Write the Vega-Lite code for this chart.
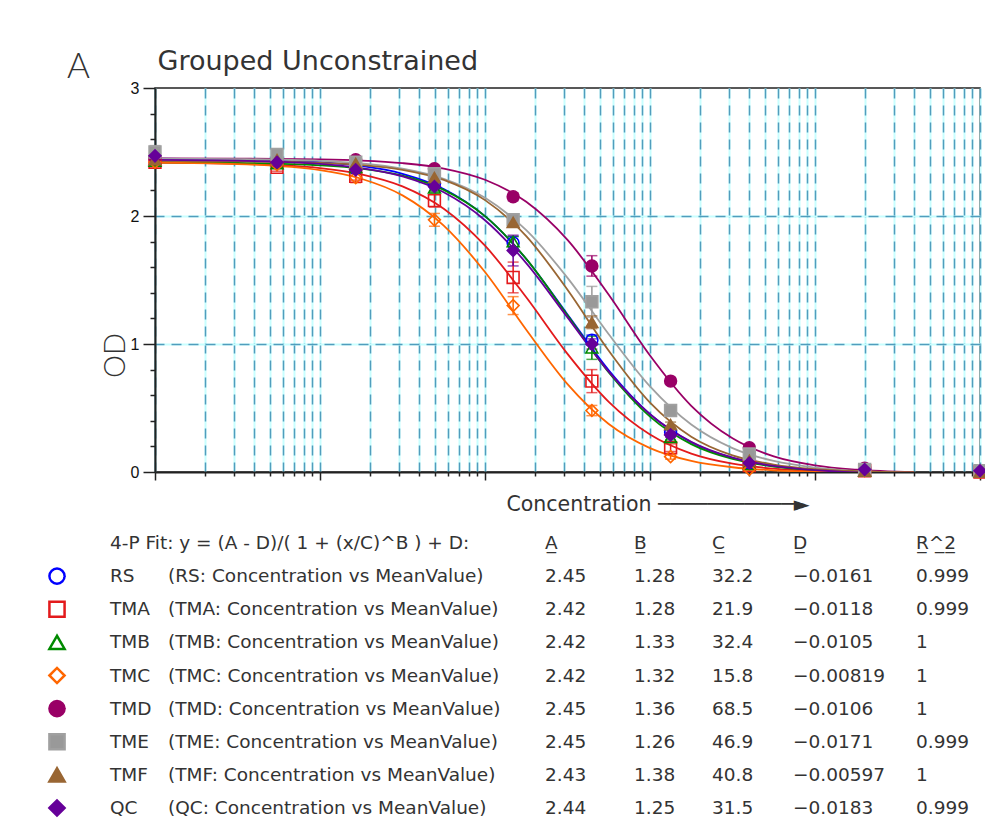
{
  "$schema": "https://vega.github.io/schema/vega-lite/v6.json",
  "width": 825,
  "height": 384,
  "autosize": {"type": "none"},
  "padding": {"left": 155, "top": 88, "right": 5, "bottom": 362},
  "background": "white",
  "config": {
    "view": {"stroke": "#222", "strokeWidth": 1.5},
    "font": "DejaVu Sans",
    "text": {"font": "DejaVu Sans"}
  },
  "datasets": {
    "curves": [
      {"series":"RS","conc":0.1,"od":2.448},{"series":"RS","conc":0.3162,"od":2.443},{"series":"RS","conc":1,"od":2.421},{"series":"RS","conc":1.778,"od":2.391},{"series":"RS","conc":3.162,"od":2.330},{"series":"RS","conc":5.623,"od":2.211},{"series":"RS","conc":10,"od":1.999},{"series":"RS","conc":17.78,"od":1.664},{"series":"RS","conc":31.62,"od":1.231},{"series":"RS","conc":56.23,"od":0.795},{"series":"RS","conc":100,"od":0.452},{"series":"RS","conc":177.8,"od":0.233},{"series":"RS","conc":316.2,"od":0.110},{"series":"RS","conc":562.3,"od":0.046},{"series":"RS","conc":1000,"od":0.014},{"series":"RS","conc":1778,"od":-0.002},{"series":"RS","conc":3981,"od":-0.011},
      {"series":"TMA","conc":0.1,"od":2.418},{"series":"TMA","conc":0.3162,"od":2.409},{"series":"TMA","conc":1,"od":2.374},{"series":"TMA","conc":1.778,"od":2.326},{"series":"TMA","conc":3.162,"od":2.232},{"series":"TMA","conc":5.623,"od":2.057},{"series":"TMA","conc":10,"od":1.768},{"series":"TMA","conc":17.78,"od":1.365},{"series":"TMA","conc":31.62,"od":0.923},{"series":"TMA","conc":56.23,"od":0.548},{"series":"TMA","conc":100,"od":0.293},{"series":"TMA","conc":177.8,"od":0.144},{"series":"TMA","conc":316.2,"od":0.065},{"series":"TMA","conc":562.3,"od":0.026},{"series":"TMA","conc":1000,"od":0.006},{"series":"TMA","conc":1778,"od":-0.003},{"series":"TMA","conc":3981,"od":-0.009},
      {"series":"TMB","conc":0.1,"od":2.419},{"series":"TMB","conc":0.3162,"od":2.415},{"series":"TMB","conc":1,"od":2.396},{"series":"TMB","conc":1.778,"od":2.370},{"series":"TMB","conc":3.162,"od":2.315},{"series":"TMB","conc":5.623,"od":2.204},{"series":"TMB","conc":10,"od":1.999},{"series":"TMB","conc":17.78,"od":1.665},{"series":"TMB","conc":31.62,"od":1.224},{"series":"TMB","conc":56.23,"od":0.778},{"series":"TMB","conc":100,"od":0.433},{"series":"TMB","conc":177.8,"od":0.218},{"series":"TMB","conc":316.2,"od":0.102},{"series":"TMB","conc":562.3,"od":0.043},{"series":"TMB","conc":1000,"od":0.015},{"series":"TMB","conc":1778,"od":0.001},{"series":"TMB","conc":3981,"od":-0.006},
      {"series":"TMC","conc":0.1,"od":2.417},{"series":"TMC","conc":0.3162,"od":2.406},{"series":"TMC","conc":1,"od":2.358},{"series":"TMC","conc":1.778,"od":2.291},{"series":"TMC","conc":3.162,"od":2.161},{"series":"TMC","conc":5.623,"od":1.925},{"series":"TMC","conc":10,"od":1.562},{"series":"TMC","conc":17.78,"od":1.111},{"series":"TMC","conc":31.62,"od":0.686},{"series":"TMC","conc":56.23,"od":0.375},{"series":"TMC","conc":100,"od":0.187},{"series":"TMC","conc":177.8,"od":0.087},{"series":"TMC","conc":316.2,"od":0.037},{"series":"TMC","conc":562.3,"od":0.013},{"series":"TMC","conc":1000,"od":0.002},{"series":"TMC","conc":1778,"od":-0.003},{"series":"TMC","conc":3981,"od":-0.007},
      {"series":"TMD","conc":0.1,"od":2.450},{"series":"TMD","conc":0.3162,"od":2.448},{"series":"TMD","conc":1,"od":2.442},{"series":"TMD","conc":1.778,"od":2.433},{"series":"TMD","conc":3.162,"od":2.413},{"series":"TMD","conc":5.623,"od":2.371},{"series":"TMD","conc":10,"od":2.283},{"series":"TMD","conc":17.78,"od":2.111},{"series":"TMD","conc":31.62,"od":1.813},{"series":"TMD","conc":56.23,"od":1.384},{"series":"TMD","conc":100,"od":0.910},{"series":"TMD","conc":177.8,"od":0.517},{"series":"TMD","conc":316.2,"od":0.263},{"series":"TMD","conc":562.3,"od":0.122},{"series":"TMD","conc":1000,"od":0.052},{"series":"TMD","conc":1778,"od":0.018},{"series":"TMD","conc":3981,"od":-0.001},
      {"series":"TME","conc":0.1,"od":2.449},{"series":"TME","conc":0.3162,"od":2.445},{"series":"TME","conc":1,"od":2.431},{"series":"TME","conc":1.778,"od":2.411},{"series":"TME","conc":3.162,"od":2.370},{"series":"TME","conc":5.623,"od":2.291},{"series":"TME","conc":10,"od":2.142},{"series":"TME","conc":17.78,"od":1.889},{"series":"TME","conc":31.62,"od":1.517},{"series":"TME","conc":56.23,"od":1.076},{"series":"TME","conc":100,"od":0.669},{"series":"TME","conc":177.8,"od":0.371},{"series":"TME","conc":316.2,"od":0.187},{"series":"TME","conc":562.3,"od":0.086},{"series":"TME","conc":1000,"od":0.034},{"series":"TME","conc":1778,"od":0.008},{"series":"TME","conc":3981,"od":-0.008},
      {"series":"TMF","conc":0.1,"od":2.429},{"series":"TMF","conc":0.3162,"od":2.427},{"series":"TMF","conc":1,"od":2.415},{"series":"TMF","conc":1.778,"od":2.398},{"series":"TMF","conc":3.162,"od":2.361},{"series":"TMF","conc":5.623,"od":2.282},{"series":"TMF","conc":10,"od":2.124},{"series":"TMF","conc":17.78,"od":1.843},{"series":"TMF","conc":31.62,"od":1.424},{"series":"TMF","conc":56.23,"od":0.947},{"series":"TMF","conc":100,"od":0.542},{"series":"TMF","conc":177.8,"od":0.276},{"series":"TMF","conc":316.2,"od":0.130},{"series":"TMF","conc":562.3,"od":0.058},{"series":"TMF","conc":1000,"od":0.023},{"series":"TMF","conc":1778,"od":0.007},{"series":"TMF","conc":3981,"od":-0.002},
      {"series":"QC","conc":0.1,"od":2.438},{"series":"QC","conc":0.3162,"od":2.432},{"series":"QC","conc":1,"od":2.408},{"series":"QC","conc":1.778,"od":2.374},{"series":"QC","conc":3.162,"od":2.309},{"series":"QC","conc":5.623,"od":2.185},{"series":"QC","conc":10,"od":1.967},{"series":"QC","conc":17.78,"od":1.632},{"series":"QC","conc":31.62,"od":1.208},{"series":"QC","conc":56.23,"od":0.784},{"series":"QC","conc":100,"od":0.451},{"series":"QC","conc":177.8,"od":0.235},{"series":"QC","conc":316.2,"od":0.112},{"series":"QC","conc":562.3,"od":0.047},{"series":"QC","conc":1000,"od":0.014},{"series":"QC","conc":1778,"od":-0.003},{"series":"QC","conc":3981,"od":-0.013}
    ],
    "points": [
      {"series":"RS","conc":0.1,"mean":2.45,"lo":2.42,"hi":2.48},{"series":"RS","conc":0.549,"mean":2.42,"lo":2.40,"hi":2.44},{"series":"RS","conc":1.646,"mean":2.37,"lo":2.34,"hi":2.40},{"series":"RS","conc":4.938,"mean":2.25,"lo":2.22,"hi":2.28},{"series":"RS","conc":14.81,"mean":1.79,"lo":1.74,"hi":1.84},{"series":"RS","conc":44.44,"mean":1.03,"lo":0.99,"hi":1.07},{"series":"RS","conc":133.3,"mean":0.31,"lo":0.29,"hi":0.33},{"series":"RS","conc":400,"mean":0.07,"lo":0.06,"hi":0.08},{"series":"RS","conc":2000,"mean":0.02,"lo":0.01,"hi":0.03},{"series":"RS","conc":10000,"mean":0.01,"lo":0.0,"hi":0.02},
      {"series":"TMA","conc":0.1,"mean":2.42,"lo":2.40,"hi":2.44},{"series":"TMA","conc":0.549,"mean":2.38,"lo":2.35,"hi":2.41},{"series":"TMA","conc":1.646,"mean":2.31,"lo":2.28,"hi":2.34},{"series":"TMA","conc":4.938,"mean":2.12,"lo":2.07,"hi":2.17},{"series":"TMA","conc":14.81,"mean":1.52,"lo":1.40,"hi":1.64},{"series":"TMA","conc":44.44,"mean":0.71,"lo":0.62,"hi":0.80},{"series":"TMA","conc":133.3,"mean":0.19,"lo":0.16,"hi":0.22},{"series":"TMA","conc":400,"mean":0.05,"lo":0.04,"hi":0.06},{"series":"TMA","conc":2000,"mean":0.01,"lo":0.0,"hi":0.02},{"series":"TMA","conc":10000,"mean":0.0,"lo":-0.01,"hi":0.01},
      {"series":"TMB","conc":0.1,"mean":2.43,"lo":2.41,"hi":2.45},{"series":"TMB","conc":0.549,"mean":2.41,"lo":2.39,"hi":2.43},{"series":"TMB","conc":1.646,"mean":2.38,"lo":2.36,"hi":2.40},{"series":"TMB","conc":4.938,"mean":2.22,"lo":2.19,"hi":2.25},{"series":"TMB","conc":14.81,"mean":1.80,"lo":1.76,"hi":1.84},{"series":"TMB","conc":44.44,"mean":0.97,"lo":0.88,"hi":1.06},{"series":"TMB","conc":133.3,"mean":0.27,"lo":0.25,"hi":0.29},{"series":"TMB","conc":400,"mean":0.06,"lo":0.05,"hi":0.07},{"series":"TMB","conc":2000,"mean":0.01,"lo":0.0,"hi":0.02},{"series":"TMB","conc":10000,"mean":0.0,"lo":-0.01,"hi":0.01},
      {"series":"TMC","conc":0.1,"mean":2.42,"lo":2.40,"hi":2.44},{"series":"TMC","conc":0.549,"mean":2.40,"lo":2.38,"hi":2.42},{"series":"TMC","conc":1.646,"mean":2.30,"lo":2.26,"hi":2.34},{"series":"TMC","conc":4.938,"mean":1.97,"lo":1.92,"hi":2.02},{"series":"TMC","conc":14.81,"mean":1.30,"lo":1.23,"hi":1.37},{"series":"TMC","conc":44.44,"mean":0.48,"lo":0.44,"hi":0.52},{"series":"TMC","conc":133.3,"mean":0.12,"lo":0.10,"hi":0.14},{"series":"TMC","conc":400,"mean":0.02,"lo":0.01,"hi":0.03},{"series":"TMC","conc":2000,"mean":0.01,"lo":0.0,"hi":0.02},{"series":"TMC","conc":10000,"mean":0.0,"lo":-0.01,"hi":0.01},
      {"series":"TMD","conc":0.1,"mean":2.46,"lo":2.43,"hi":2.49},{"series":"TMD","conc":0.549,"mean":2.43,"lo":2.41,"hi":2.45},{"series":"TMD","conc":1.646,"mean":2.44,"lo":2.42,"hi":2.46},{"series":"TMD","conc":4.938,"mean":2.37,"lo":2.35,"hi":2.39},{"series":"TMD","conc":14.81,"mean":2.15,"lo":2.12,"hi":2.18},{"series":"TMD","conc":44.44,"mean":1.61,"lo":1.53,"hi":1.69},{"series":"TMD","conc":133.3,"mean":0.71,"lo":0.69,"hi":0.73},{"series":"TMD","conc":400,"mean":0.19,"lo":0.17,"hi":0.21},{"series":"TMD","conc":2000,"mean":0.03,"lo":0.02,"hi":0.04},{"series":"TMD","conc":10000,"mean":0.01,"lo":0.0,"hi":0.02},
      {"series":"TME","conc":0.1,"mean":2.50,"lo":2.45,"hi":2.55},{"series":"TME","conc":0.549,"mean":2.48,"lo":2.46,"hi":2.50},{"series":"TME","conc":1.646,"mean":2.42,"lo":2.39,"hi":2.45},{"series":"TME","conc":4.938,"mean":2.33,"lo":2.30,"hi":2.36},{"series":"TME","conc":14.81,"mean":1.97,"lo":1.93,"hi":2.01},{"series":"TME","conc":44.44,"mean":1.33,"lo":1.21,"hi":1.45},{"series":"TME","conc":133.3,"mean":0.48,"lo":0.46,"hi":0.50},{"series":"TME","conc":400,"mean":0.14,"lo":0.12,"hi":0.16},{"series":"TME","conc":2000,"mean":0.02,"lo":0.01,"hi":0.03},{"series":"TME","conc":10000,"mean":0.01,"lo":0.0,"hi":0.02},
      {"series":"TMF","conc":0.1,"mean":2.44,"lo":2.42,"hi":2.46},{"series":"TMF","conc":0.549,"mean":2.44,"lo":2.42,"hi":2.46},{"series":"TMF","conc":1.646,"mean":2.41,"lo":2.39,"hi":2.43},{"series":"TMF","conc":4.938,"mean":2.30,"lo":2.27,"hi":2.33},{"series":"TMF","conc":14.81,"mean":1.95,"lo":1.92,"hi":1.98},{"series":"TMF","conc":44.44,"mean":1.17,"lo":1.12,"hi":1.22},{"series":"TMF","conc":133.3,"mean":0.37,"lo":0.35,"hi":0.39},{"series":"TMF","conc":400,"mean":0.09,"lo":0.08,"hi":0.10},{"series":"TMF","conc":2000,"mean":0.01,"lo":0.0,"hi":0.02},{"series":"TMF","conc":10000,"mean":0.0,"lo":-0.01,"hi":0.01},
      {"series":"QC","conc":0.1,"mean":2.47,"lo":2.43,"hi":2.51},{"series":"QC","conc":0.549,"mean":2.42,"lo":2.40,"hi":2.44},{"series":"QC","conc":1.646,"mean":2.36,"lo":2.33,"hi":2.39},{"series":"QC","conc":4.938,"mean":2.23,"lo":2.20,"hi":2.26},{"series":"QC","conc":14.81,"mean":1.73,"lo":1.61,"hi":1.85},{"series":"QC","conc":44.44,"mean":1.00,"lo":0.96,"hi":1.04},{"series":"QC","conc":133.3,"mean":0.29,"lo":0.27,"hi":0.31},{"series":"QC","conc":400,"mean":0.07,"lo":0.06,"hi":0.08},{"series":"QC","conc":2000,"mean":0.02,"lo":0.01,"hi":0.03},{"series":"QC","conc":10000,"mean":0.01,"lo":0.0,"hi":0.02}
    ],
    "fit": [
      {"series":"header","name":"4-P Fit: y = (A - D)/( 1 + (x/C)^B ) + D:","desc":"","A":"A\u0332","B":"B\u0332","C":"C\u0332","D":"D\u0332","R2":"R\u0332^\u03322\u0332"},
      {"series":"RS","name":"RS","desc":"(RS: Concentration vs MeanValue)","A":"2.45","B":"1.28","C":"32.2","D":"\u22120.0161","R2":"0.999"},
      {"series":"TMA","name":"TMA","desc":"(TMA: Concentration vs MeanValue)","A":"2.42","B":"1.28","C":"21.9","D":"\u22120.0118","R2":"0.999"},
      {"series":"TMB","name":"TMB","desc":"(TMB: Concentration vs MeanValue)","A":"2.42","B":"1.33","C":"32.4","D":"\u22120.0105","R2":"1"},
      {"series":"TMC","name":"TMC","desc":"(TMC: Concentration vs MeanValue)","A":"2.42","B":"1.32","C":"15.8","D":"\u22120.00819","R2":"1"},
      {"series":"TMD","name":"TMD","desc":"(TMD: Concentration vs MeanValue)","A":"2.45","B":"1.36","C":"68.5","D":"\u22120.0106","R2":"1"},
      {"series":"TME","name":"TME","desc":"(TME: Concentration vs MeanValue)","A":"2.45","B":"1.26","C":"46.9","D":"\u22120.0171","R2":"0.999"},
      {"series":"TMF","name":"TMF","desc":"(TMF: Concentration vs MeanValue)","A":"2.43","B":"1.38","C":"40.8","D":"\u22120.00597","R2":"1"},
      {"series":"QC","name":"QC","desc":"(QC: Concentration vs MeanValue)","A":"2.44","B":"1.25","C":"31.5","D":"\u22120.0183","R2":"0.999"}
    ]
  },
  "resolve": {"scale": {"x": "independent", "y": "independent"}},
  "layer": [
    {
      "resolve": {"axis": {"x": "independent", "y": "independent"}},
      "layer": [
        {
          "data": {"name": "curves"},
          "mark": {"type": "line", "interpolate": "monotone", "strokeWidth": 1.8, "clip": true},
          "encoding": {
            "x": {"field": "conc", "type": "quantitative",
              "scale": {"type": "log", "domain": [0.1, 10000], "nice": false},
              "axis": {"orient": "bottom",
                "values": [0.1,0.2,0.3,0.4,0.5,0.6,0.7,0.8,0.9,1,2,3,4,5,6,7,8,9,10,20,30,40,50,60,70,80,90,100,200,300,400,500,600,700,800,900,1000,2000,3000,4000,5000,6000,7000,8000,9000,10000],
                "labels": false, "grid": true, "gridColor": "#c8ffff", "gridWidth": 2,
                "ticks": true, "tickColor": "#222", "tickWidth": 1.5,
                "tickSize": {"condition": {"test": "datum.value == 0.1 || datum.value == 1 || datum.value == 10 || datum.value == 100 || datum.value == 1000 || datum.value == 10000", "value": 8}, "value": 4},
                "domainColor": "#222", "domainWidth": 2,
                "title": "Concentration \u2500\u2500\u2500\u2500\u2500\u2500\u2500\u2500\u2500\u2500\u2500\u25BA",
                "titleX": 351, "titleY": 38, "titleAlign": "left", "titleBaseline": "alphabetic",
                "titleFont": "DejaVu Sans", "titleFontSize": 20.5, "titleFontWeight": "normal", "titleColor": "#333"}},
            "y": {"field": "od", "type": "quantitative",
              "scale": {"domain": [0, 3], "nice": false, "zero": false},
              "axis": {"orient": "left",
                "values": [0,0.2,0.4,0.6,0.8,1,1.2,1.4,1.6,1.8,2,2.2,2.4,2.6,2.8,3],
                "labelExpr": "datum.value % 1 == 0 ? format(datum.value, 'd') : ''",
                "labelFont": "Liberation Sans", "labelFontSize": 16, "labelColor": "#111", "labelPadding": 4,
                "grid": true, "gridColor": "#c8ffff", "gridWidth": 2,
                "gridOpacity": {"condition": {"test": "datum.value == 1 || datum.value == 2", "value": 1}, "value": 0},
                "ticks": true, "tickColor": "#222", "tickWidth": 1.5,
                "tickSize": {"condition": {"test": "datum.value % 1 == 0", "value": 12}, "value": 5},
                "domainColor": "#222", "domainWidth": 2,
                "title": "OD", "titleX": -40, "titleY": 267, "titleAngle": 270, "titleAlign": "center", "titleBaseline": "middle",
                "titleFont": "Lato", "titleFontSize": 29, "titleFontWeight": 300, "titleColor": "#333"}},
            "stroke": {"field": "series", "type": "nominal",
              "scale": {"domain": ["RS","TMA","TMB","TMC","TMD","TME","TMF","QC"], "range": ["#0000ff","#e31a1c","#008a00","#ff6600","#990066","#a0a0a0","#996633","#660099"]},
              "legend": null}
          }
        },
        {
          "data": {"name": "points"},
          "mark": {"type": "errorbar", "ticks": {"size": 11}, "thickness": 1.5},
          "encoding": {
            "x": {"field": "conc", "type": "quantitative", "scale": {"type": "log", "domain": [0.1, 10000], "nice": false}, "axis": null},
            "y": {"field": "lo", "type": "quantitative", "scale": {"domain": [0, 3], "nice": false, "zero": false}, "axis": null},
            "y2": {"field": "hi"},
            "color": {"field": "series", "type": "nominal",
              "scale": {"domain": ["RS","TMA","TMB","TMC","TMD","TME","TMF","QC"], "range": ["#0000ff","#e31a1c","#008a00","#ff6600","#990066","#999999","#996633","#660099"]},
              "legend": null}
          }
        },
        {
          "data": {"name": "points"},
          "mark": {"type": "point", "size": 140, "strokeWidth": 1.6, "opacity": 1},
          "encoding": {
            "x": {"field": "conc", "type": "quantitative",
              "scale": {"type": "log", "domain": [0.1, 10000], "nice": false},
              "axis": {"orient": "top",
                "values": [0.1,0.2,0.3,0.4,0.5,0.6,0.7,0.8,0.9,1,2,3,4,5,6,7,8,9,10,20,30,40,50,60,70,80,90,100,200,300,400,500,600,700,800,900,1000,2000,3000,4000,5000,6000,7000,8000,9000,10000],
                "labels": false, "ticks": false, "domain": false,
                "grid": true, "gridColor": "#519dbd", "gridWidth": 1.5, "gridDash": [10, 7],
                "title": "Grouped Unconstrained", "titleX": 2, "titleY": -19, "titleAlign": "left", "titleBaseline": "alphabetic", "titleAngle": 0,
                "titleFont": "DejaVu Sans", "titleFontSize": 27, "titleFontWeight": "normal", "titleColor": "#333"}},
            "y": {"field": "mean", "type": "quantitative",
              "scale": {"domain": [0, 3], "nice": false, "zero": false},
              "axis": {"orient": "right", "values": [1, 2],
                "labels": false, "ticks": false, "domain": false,
                "grid": true, "gridColor": "#519dbd", "gridWidth": 1.5, "gridDash": [10, 7],
                "title": "A", "titleX": -902, "titleY": -11, "titleAngle": 0, "titleAlign": "center", "titleBaseline": "alphabetic",
                "titleFont": "Lato", "titleFontSize": 35, "titleFontWeight": 300, "titleColor": "#333"}},
            "shape": {"field": "series", "type": "nominal",
              "scale": {"domain": ["RS","TMA","TMB","TMC","TMD","TME","TMF","QC"], "range": ["circle","square","triangle-up","diamond","circle","square","triangle-up","diamond"]},
              "legend": null},
            "stroke": {"field": "series", "type": "nominal", "legend": null},
            "fill": {"field": "series", "type": "nominal",
              "scale": {"domain": ["RS","TMA","TMB","TMC","TMD","TME","TMF","QC"], "range": ["transparent","transparent","transparent","transparent","#990066","#999999","#996633","#660099"]},
              "legend": null}
          }
        }
      ]
    },
    {
      "data": {"name": "fit"},
      "layer": [
        {
          "transform": [{"filter": "datum.series != 'header'"}],
          "mark": {"type": "point", "size": 230, "strokeWidth": 2.5, "opacity": 1},
          "encoding": {
            "x": {"datum": 0, "type": "quantitative", "scale": {"domain": [0,1,2,3,4,5,6,7], "range": [-98,-45,13,390,479,557,638,761], "nice": false, "zero": false}, "axis": null},
            "y": {"field": "series", "type": "nominal", "scale": {"domain": ["header","RS","TMA","TMB","TMC","TMD","TME","TMF","QC"], "range": [455, 720], "padding": 0}, "axis": null},
            "shape": {"field": "series", "type": "nominal", "legend": null},
            "stroke": {"field": "series", "type": "nominal", "legend": null},
            "fill": {"field": "series", "type": "nominal", "legend": null}
          }
        },
        {
          "mark": {"type": "text", "align": "left", "baseline": "middle", "fontSize": 18.5, "color": "#333"},
          "encoding": {
            "x": {"datum": 1, "type": "quantitative", "axis": null},
            "y": {"field": "series", "type": "nominal", "axis": null},
            "text": {"field": "name"}
          }
        },
        {
          "mark": {"type": "text", "align": "left", "baseline": "middle", "fontSize": 18.5, "color": "#333"},
          "encoding": {
            "x": {"datum": 2, "type": "quantitative", "axis": null},
            "y": {"field": "series", "type": "nominal", "axis": null},
            "text": {"field": "desc"}
          }
        },
        {
          "mark": {"type": "text", "align": "left", "baseline": "middle", "fontSize": 18.5, "color": "#333"},
          "encoding": {
            "x": {"datum": 3, "type": "quantitative", "axis": null},
            "y": {"field": "series", "type": "nominal", "axis": null},
            "text": {"field": "A"}
          }
        },
        {
          "mark": {"type": "text", "align": "left", "baseline": "middle", "fontSize": 18.5, "color": "#333"},
          "encoding": {
            "x": {"datum": 4, "type": "quantitative", "axis": null},
            "y": {"field": "series", "type": "nominal", "axis": null},
            "text": {"field": "B"}
          }
        },
        {
          "mark": {"type": "text", "align": "left", "baseline": "middle", "fontSize": 18.5, "color": "#333"},
          "encoding": {
            "x": {"datum": 5, "type": "quantitative", "axis": null},
            "y": {"field": "series", "type": "nominal", "axis": null},
            "text": {"field": "C"}
          }
        },
        {
          "mark": {"type": "text", "align": "left", "baseline": "middle", "fontSize": 18.5, "color": "#333"},
          "encoding": {
            "x": {"datum": 6, "type": "quantitative", "axis": null},
            "y": {"field": "series", "type": "nominal", "axis": null},
            "text": {"field": "D"}
          }
        },
        {
          "mark": {"type": "text", "align": "left", "baseline": "middle", "fontSize": 18.5, "color": "#333"},
          "encoding": {
            "x": {"datum": 7, "type": "quantitative", "axis": null},
            "y": {"field": "series", "type": "nominal", "axis": null},
            "text": {"field": "R2"}
          }
        }
      ]
    }
  ]
}
